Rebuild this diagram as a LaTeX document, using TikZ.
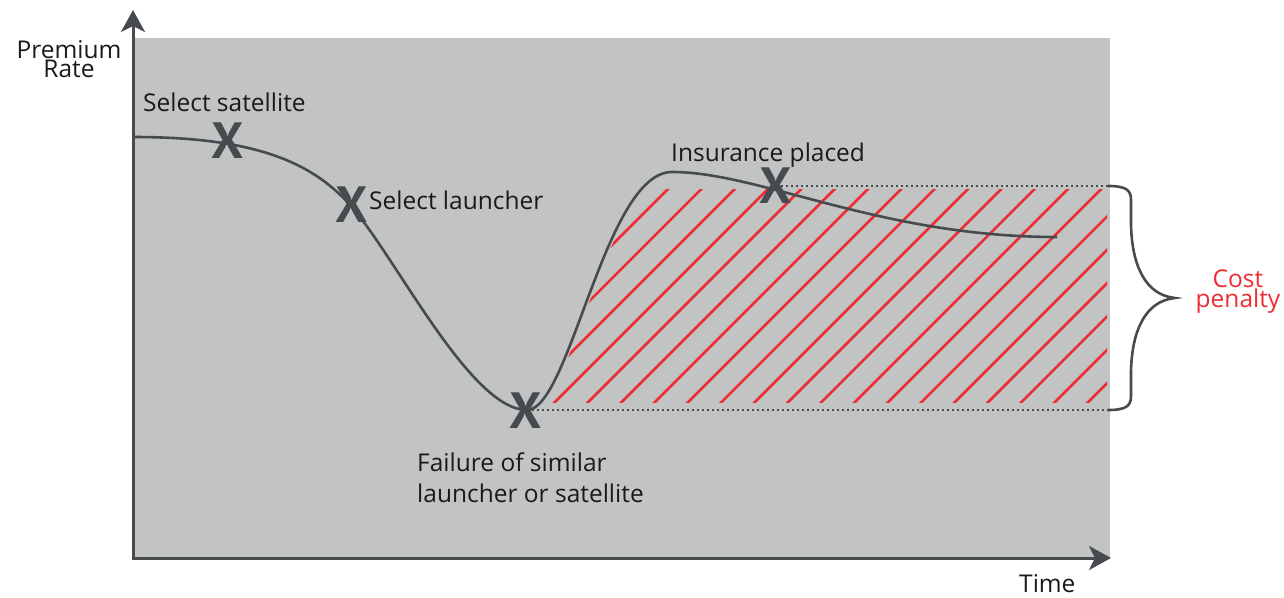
\documentclass[tikz,border=0pt]{standalone}
\usepackage{fontspec}
\setmainfont{Open Sans}
\newfontfamily\markfont{PT Sans}
\usetikzlibrary{arrows.meta}
\definecolor{panel}{RGB}{194,196,195}
\definecolor{ink}{RGB}{71,75,79}
\definecolor{hatchred}{RGB}{236,45,52}
\definecolor{txt}{RGB}{26,26,26}
\begin{document}
\begin{tikzpicture}[x=1pt,y=-1pt,
  label/.style={font=\fontsize{24.5}{19.5}\selectfont, text=txt, inner sep=0pt},
  redlabel/.style={label, text=hatchred},
  xmark/.style={font=\markfont\fontsize{51}{51}\selectfont\bfseries, text=ink, inner sep=0pt},
  curve/.style={draw=ink, line width=2.6pt},
  axis/.style={draw=ink, line width=3pt, -{Stealth[length=22pt,width=24pt,inset=6pt]}},
  hatch/.style={draw=hatchred, line width=2.6pt},
  guide/.style={draw=ink, line width=1.6pt, dash pattern=on 1.6pt off 3.4pt},
  bracket/.style={draw=ink, line width=2.6pt}]
\useasboundingbox (0,0) rectangle (1284,597);

% plotting area
\fill[panel] (133,38) rectangle (1110,558);

% hatched cost region
\begin{scope}
  \clip (540,189) rectangle (1107,402);
  \clip (530,410) .. controls (573,410) and (608,172) .. (675,172) -- (1200,172) -- (1200,420) -- cycle;
  \foreach \i in {0,...,20} {
    \draw[hatch] ({857+33.33*\i-430},430) -- ({857+33.33*\i-160},160);
  }
\end{scope}

% key points of the premium curve
\coordinate (p0) at (133,137);
\coordinate (p1) at (350,205);
\coordinate (p2) at (527,410);
\coordinate (p3) at (672,172);
\coordinate (p4) at (1057,237);

% guide lines bounding the penalty
\coordinate (gtopL) at (776,186);
\coordinate (gtopR) at (1108,186);
\coordinate (gbotR) at (1108,410);
\draw[guide] (gtopL) -- (gtopR);
\draw[guide] (p2) -- (gbotR);

% premium rate curve
\draw[curve] (p0) .. controls (250,137) and (310,160) .. (p1)
  .. controls (395,255) and (470,410) .. (p2)
  .. controls (570,410) and (605,172) .. (p3)
  .. controls (760,172) and (880,237) .. (p4);

% event marks
\node[xmark] (xsat) at (228,141) {X};
\node[xmark] (xlaunch) at (352,205) {X};
\node[xmark] (xfail) at (526,411) {X};
\node[xmark] (xins) at (776,186) {X};

% axes
\coordinate (origin) at (133,558);
\coordinate (ytip) at (133,10);
\coordinate (xtip) at (1111,558);
\draw[axis] (origin) -- (ytip);
\draw[axis] (131.5,558) -- (xtip);

% brace for the cost penalty
\coordinate (tip) at (1175,298);
\draw[bracket] (gtopR) .. controls (1126,186) and (1131,190) .. (1131,200) -- (1131,225)
  .. controls (1132,265) and (1145,295) .. (tip)
  .. controls (1145,301) and (1132,331) .. (1131,371) -- (1131,396)
  .. controls (1131,406) and (1126,410) .. (gbotR);

% labels
\node[label, align=center, anchor=north] (ylab) at (69,40) {Premium\\Rate};
\node[label, anchor=base west] (lsat) at (143,111) {Select satellite};
\node[label, anchor=base west] (llaunch) at (369,209) {Select launcher};
\node[label, anchor=base west] (lins) at (671,161) {Insurance placed};
\node[label, anchor=base west] (lfail1) at (417,471) {Failure of similar};
\node[label, anchor=base west] (lfail2) at (417,502) {launcher or satellite};
\node[label, anchor=base west] (xlab) at (1019,592) {Time};
\node[redlabel, align=center, anchor=north, font=\fontsize{24.5}{18.5}\selectfont] (cost) at (1238,270) {Cost\\penalty};
\end{tikzpicture}
\end{document}
